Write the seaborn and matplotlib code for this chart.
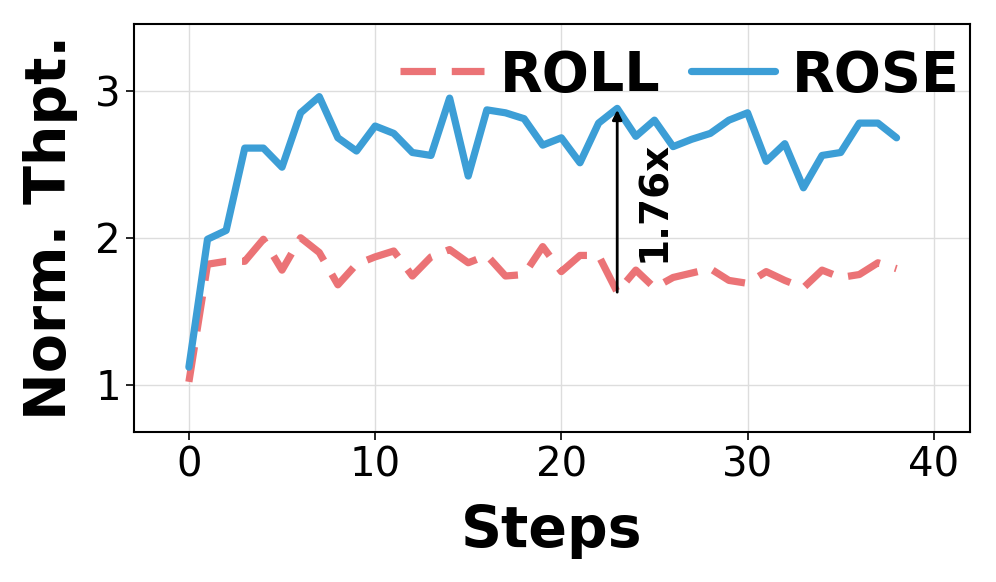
import numpy as np
import pandas as pd
import matplotlib
matplotlib.use("Agg")
import matplotlib.pyplot as plt
import seaborn as sns

# datos
steps = list(range(39))
roll = [1.02, 1.82, 1.84, 1.84, 1.99, 1.78, 2.00, 1.90, 1.68, 1.82,
        1.87, 1.91, 1.74, 1.87, 1.92, 1.83, 1.88, 1.74, 1.75, 1.94,
        1.77, 1.88, 1.88, 1.63, 1.78, 1.66, 1.73, 1.76, 1.79, 1.71,
        1.69, 1.77, 1.71, 1.66, 1.78, 1.73, 1.75, 1.83, 1.79]
rose = [1.12, 1.99, 2.05, 2.61, 2.61, 2.48, 2.85, 2.96, 2.68, 2.59,
        2.76, 2.71, 2.58, 2.56, 2.95, 2.42, 2.87, 2.85, 2.81, 2.63,
        2.68, 2.51, 2.78, 2.88, 2.69, 2.80, 2.62, 2.67, 2.71, 2.80,
        2.85, 2.52, 2.64, 2.34, 2.56, 2.58, 2.78, 2.78, 2.68]
speedup_step = 23
speedup_label = "1.76x"

red = "#EB7376"
blue = "#3C9ED6"

sns.set_style("white")
plt.rcParams['font.family'] = ['DejaVu Sans']
plt.rcParams['text.color'] = 'black'
plt.rcParams['axes.labelcolor'] = 'black'
plt.rcParams['xtick.color'] = 'black'
plt.rcParams['ytick.color'] = 'black'

fig = plt.figure(figsize=(9.96, 5.82), dpi=100)
ax = fig.add_axes([0.1345, 0.258, 0.8395, 0.701])

df = pd.DataFrame({"step": steps, "ROLL": roll, "ROSE": rose})

sns.lineplot(data=df, x="step", y="ROLL", ax=ax, color=red, lw=5.2,
             label="ROLL")
ax.lines[-1].set_dashes((4.9, 2.2))
sns.lineplot(data=df, x="step", y="ROSE", ax=ax, color=blue, lw=5.2,
             label="ROSE")

# flecha de mejora
ax.annotate("", xy=(speedup_step, rose[speedup_step] - 0.01),
            xytext=(speedup_step, roll[speedup_step]),
            arrowprops=dict(arrowstyle="-|>", color="black", lw=2,
                            mutation_scale=14, shrinkA=0, shrinkB=0))
ax.text(speedup_step + 2.0, (rose[speedup_step] + roll[speedup_step]) / 2 - 0.01,
        speedup_label, rotation=90, fontsize=28, fontweight="bold",
        ha="center", va="center")

ax.set_xlim(-2.95, 41.95)
ax.set_ylim(0.68, 3.455)
ax.set_xticks([0, 10, 20, 30, 40])
ax.set_yticks([1, 2, 3])
ax.tick_params(axis="both", labelsize=29, length=6, width=1.2, direction="out",
               bottom=True, left=True, colors="black")
ax.grid(True, color="#dddddd", lw=1)
for s in ax.spines.values():
    s.set_color("black")
    s.set_linewidth(1.5)

ax.set_xlabel("Steps", fontsize=41, fontweight="bold", labelpad=14)
ax.set_ylabel("Norm. Thpt.", fontsize=41, fontweight="bold", labelpad=12)

ax.legend(loc="upper right", bbox_to_anchor=(1.017, 1.0), ncol=2,
          frameon=False, handlelength=1.5, handletextpad=0.3,
          columnspacing=0.55, borderaxespad=0.25, borderpad=0.2,
          prop={"size": 40, "weight": "bold"})

fig.savefig("out.png", dpi=100)
